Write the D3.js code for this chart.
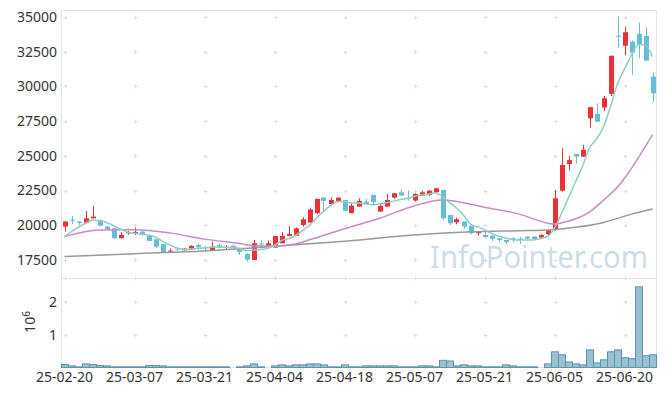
<!DOCTYPE html>
<html>
<head>
<meta charset="utf-8">
<script src="https://cdn.jsdelivr.net/npm/d3@7"></script>
<style>
  body { margin: 0; background: #fff; }
  svg { display: block; font-family: "Noto Sans", sans-serif; }
</style>
</head>
<body>
<svg id="chart" width="665" height="396"></svg>
<script>
// trading days (yy-mm-dd)
const dates = ["25-02-20","25-02-21","25-02-24","25-02-25","25-02-26","25-02-27","25-02-28","25-03-04","25-03-05","25-03-06",
  "25-03-07","25-03-10","25-03-11","25-03-12","25-03-13","25-03-14","25-03-17","25-03-18","25-03-19","25-03-20",
  "25-03-21","25-03-24","25-03-25","25-03-26","25-03-27","25-03-28","25-03-31","25-04-01","25-04-02","25-04-03",
  "25-04-04","25-04-07","25-04-08","25-04-09","25-04-10","25-04-11","25-04-14","25-04-15","25-04-16","25-04-17",
  "25-04-18","25-04-21","25-04-22","25-04-23","25-04-24","25-04-25","25-04-28","25-04-29","25-04-30","25-05-02",
  "25-05-07","25-05-08","25-05-09","25-05-12","25-05-13","25-05-14","25-05-15","25-05-16","25-05-19","25-05-20",
  "25-05-21","25-05-22","25-05-23","25-05-26","25-05-27","25-05-28","25-05-29","25-05-30","25-06-02","25-06-04",
  "25-06-05","25-06-09","25-06-10","25-06-11","25-06-12","25-06-13","25-06-16","25-06-17","25-06-18","25-06-19",
  "25-06-20","25-06-23","25-06-24","25-06-25","25-06-26"];

const open  = [19900,20400,20270,20180,20500,20380,19900,19780,19060,19450, 19450,19540,19250,18990,18640,18120,18320,18200,18320,18580,
  18400,18220,18560,18380,18530,18340,17930,17500,18690,18460, 18390,18700,19230,19230,20020,20190,20870,22000,21530,21750,
  21820,20870,21340,21700,22180,20980,21340,21990,22370,22000, 21780,22130,22180,22380,22540,20740,20210,20260,19950,19420,
  19300,19250,19060,18940,19060,19040,19180,19180,19110,19350, 19660,22490,24410,25130,24940,27700,28020,28470,29460,33650,
  32930,33220,33780,33630,30700];
const high  = [20310,20670,20290,21030,21390,20400,19950,19830,19500,19590, 19830,19660,19300,19000,18680,18340,18420,18350,18560,18680,
  18500,18820,18680,18560,18600,18350,18000,18940,18900,18900, 19230,19500,19950,19850,20580,21270,21900,22000,21990,22000,
  21820,21580,21940,21890,22180,21580,22250,22300,22590,22510, 22300,22480,22550,22700,22540,20750,20550,20280,19980,19540,
  19610,19260,19070,18950,19130,19160,19200,19220,19350,19700, 22540,25540,24990,25160,25780,28550,28780,29310,32230,35020,
  34300,33300,34590,34260,30990];
const low   = [19540,20070,19970,20150,20480,19900,19680,19040,19040,19330, 19300,19250,18870,18340,18060,18060,18140,18180,18300,18220,
  18100,18200,18320,18280,18300,17860,17380,17500,18390,18430, 18390,18700,19200,19230,19900,20190,20790,20980,21530,21700,
  21000,20870,21340,21500,21410,20980,21340,21900,22130,21770, 21700,22100,22100,22350,20380,20020,20070,19750,19340,19250,
  19100,18870,18760,18650,18780,18650,19000,18980,19080,19250, 19600,22420,23930,24460,24940,27030,27460,28230,29310,32750,
  32260,30820,32030,31850,28900];
const close = [20260,20350,20170,20500,20620,19970,19710,19060,19300,19490, 19520,19350,18870,18460,18060,18170,18280,18320,18510,18420,
  18330,18460,18400,18440,18340,18080,17520,18700,18650,18700, 19230,19230,19370,19780,20430,21130,21900,21750,21820,21990,
  21050,21410,21750,21510,21660,21390,21820,22300,22130,21950, 22250,22370,22490,22660,20500,20140,20430,19900,19420,19540,
  19140,19020,18940,18780,18940,18960,19040,19000,19300,19660, 21940,24340,24700,24940,25420,28500,27460,29150,32200,33600,
  33900,32430,32980,31850,29500];
// volume in millions of shares
const volume = [0.09,0.05,0.02,0.11,0.09,0.06,0.05,0.02,0.02,0.02, 0.02,0.02,0.06,0.06,0.05,0.02,0.02,0.02,0.02,0.02,
  0.02,0.02,0.02,0.02,0,0.02,0.05,0.11,0.02,0, 0.05,0.08,0.05,0.08,0.08,0.11,0.11,0.08,0.02,0.02,
  0.08,0.02,0.02,0.05,0.05,0.05,0.05,0.05,0.02,0.02, 0.02,0.05,0.05,0.02,0.22,0.20,0.05,0.08,0.05,0.05,
  0.02,0.02,0.02,0.08,0.05,0.02,0.02,0.02,0,0.11, 0.48,0.39,0.17,0.11,0.08,0.54,0.14,0.235,0.48,0.54,
  0.30,0.27,2.47,0.36,0.39];

// MA5 values before 5 closes are available
const ma5Head = [19180,19540,19860,20140];
// MA20 / MA60
const ma20Idx = [0,5,10,15,20,25,27,30,33,35,40,45,50,54,55,60,65,69,70,72,75,77,79,81,83,84];
const ma20Val = [19180,19660,19680,19450,19000,18680,18530,18500,18650,18950,19750,20500,21400,21820,21780,21300,20800,20150,20080,20300,20950,21800,22750,24100,25700,26500];
const ma60Idx = [0,10,20,25,30,40,50,55,60,65,70,73,77,81,84];
const ma60Val = [17740,17950,18150,18300,18480,18850,19300,19450,19550,19600,19680,19850,20200,20800,21170];

const priceTicks = [17500,20000,22500,25000,27500,30000,32500,35000];
const volTicks = [1,2];
const dateTickIdx = [0,10,20,30,40,50,60,70,80];

const svg = d3.select("#chart");
const pLeft = 61.5, pRight = 656.5, pTop = 10.5, pMid = 278.5, pBottom = 367.5;

const x = d3.scaleLinear().domain([-0.5, 84.5]).range([pLeft - 0.5, pRight - 0.5]);
const y = d3.scaleLinear().domain([16200, 35500]).range([pMid - 0.5, pTop - 0.5]);
const yv = d3.scaleLinear().domain([0, 2.74]).range([pBottom, pMid - 0.5]);

const upColor = "#ec3038", downColor = "#66bdd6";

// watermark
svg.append("text")
    .attr("x", 430).attr("y", 268)
    .attr("textLength", 218).attr("lengthAdjust", "spacingAndGlyphs")
    .style("font-size", "31px")
    .attr("fill", "#bcd2df").attr("fill-opacity", 0.75)
    .text("InfoPointer.com");

// panel frames
svg.append("rect").attr("x", pLeft).attr("y", pTop).attr("width", pRight - pLeft).attr("height", pMid - pTop)
    .attr("fill", "none").attr("stroke", "#e4e4e4");
svg.append("rect").attr("x", pLeft).attr("y", pMid).attr("width", pRight - pLeft).attr("height", pBottom - pMid)
    .attr("fill", "none").attr("stroke", "#e4e4e4");

// grid crosses
const crossY = priceTicks.map(y).concat([pMid - 0.5]).concat(volTicks.map(yv));
const crosses = svg.append("g").attr("stroke", "#dedede").attr("stroke-width", 1);
dateTickIdx.forEach(function(i) {
  crossY.forEach(function(cy) {
    const cx = Math.round(x(i)) + 0.5, yy = Math.round(cy) + 0.5;
    crosses.append("line").attr("x1", cx - 2).attr("x2", cx + 2).attr("y1", yy).attr("y2", yy);
    crosses.append("line").attr("x1", cx).attr("x2", cx).attr("y1", yy - 2).attr("y2", yy + 2);
  });
});

// price axis labels
svg.append("g").selectAll("text")
  .data(priceTicks)
  .enter().append("text")
    .attr("x", 57).attr("y", function(d) { return y(d); })
    .attr("dy", "0.35em").attr("text-anchor", "end")
    .style("font-size", "14px").attr("fill", "#333")
    .text(function(d) { return d; });

// volume axis labels
svg.append("g").selectAll("text")
  .data(volTicks)
  .enter().append("text")
    .attr("x", 57).attr("y", function(d) { return yv(d); })
    .attr("dy", "0.35em").attr("text-anchor", "end")
    .style("font-size", "14px").attr("fill", "#333")
    .text(function(d) { return d; });

const expo = svg.append("text")
    .attr("transform", "translate(35,322) rotate(-90)")
    .attr("text-anchor", "middle")
    .style("font-size", "14px").attr("fill", "#333");
expo.append("tspan").text("10");
expo.append("tspan").attr("dy", "-5").style("font-size", "10px").text("6");

// date labels
svg.append("g").selectAll("text")
  .data(dateTickIdx)
  .enter().append("text")
    .attr("x", function(i) { return x(i); }).attr("y", 382)
    .attr("text-anchor", "middle")
    .style("font-size", "14px").attr("fill", "#333")
    .text(function(i) { return dates[i]; });

// volume bars
svg.append("g").selectAll("rect")
  .data(volume.map(function(v, i) { return {i: i, v: v}; }).filter(function(d) { return d.v > 0; }))
  .enter().append("rect")
    .attr("x", function(d) { return Math.round(x(d.i - 0.5)) + 0.5; })
    .attr("width", 7)
    .attr("y", function(d) { return yv(d.v); })
    .attr("height", function(d) { return pBottom - yv(d.v); })
    .attr("fill", "#99c1d2")
    .attr("stroke", "#5f93ab").attr("stroke-width", 1);

// candles
const candles = svg.append("g").selectAll("g")
  .data(d3.range(dates.length))
  .enter().append("g");

candles.append("line")
    .attr("x1", function(i) { return Math.round(x(i)) + 0.5; })
    .attr("x2", function(i) { return Math.round(x(i)) + 0.5; })
    .attr("y1", function(i) { return y(high[i]); })
    .attr("y2", function(i) { return y(low[i]); })
    .attr("stroke", function(i) { return close[i] >= open[i] ? upColor : downColor; });

candles.append("rect")
    .attr("x", function(i) { return Math.round(x(i)) - 2; })
    .attr("width", 5)
    .attr("y", function(i) { return y(Math.max(open[i], close[i])); })
    .attr("height", function(i) { return Math.max(1, Math.abs(y(open[i]) - y(close[i]))); })
    .attr("fill", function(i) { return close[i] >= open[i] ? upColor : downColor; });

// moving averages
const ma5 = close.map(function(c, i) {
  return i < 4 ? ma5Head[i] : d3.mean(close.slice(i - 4, i + 1));
});

const line = d3.line()
    .x(function(d) { return x(d[0]); })
    .y(function(d) { return y(d[1]); })
    .curve(d3.curveMonotoneX);

svg.append("path")
    .datum(ma60Idx.map(function(i, k) { return [i, ma60Val[k]]; }))
    .attr("d", line).attr("fill", "none").attr("stroke", "#9a9a9a").attr("stroke-width", 1.5);
svg.append("path")
    .datum(ma20Idx.map(function(i, k) { return [i, ma20Val[k]]; }))
    .attr("d", line).attr("fill", "none").attr("stroke", "#c98cc6").attr("stroke-width", 1.5);
svg.append("path")
    .datum(ma5.map(function(v, i) { return [i, v]; }))
    .attr("d", line).attr("fill", "none").attr("stroke", "#8dcfc2").attr("stroke-width", 1.5);
</script>
</body>
</html>
